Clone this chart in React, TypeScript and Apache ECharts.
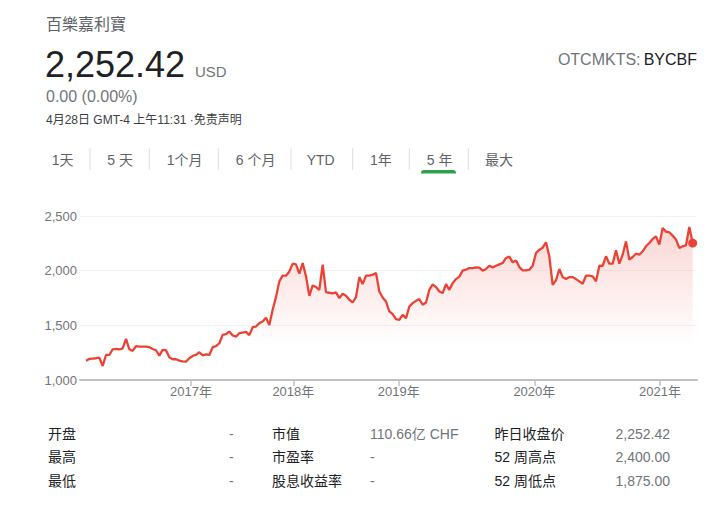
import React, { useEffect, useRef } from "react";
import * as echarts from "echarts";

// Weekly closing prices (USD), oldest first
const prices: number[] = [
  1177, 1193, 1196, 1199, 1205, 1128, 1229, 1229, 1281, 1284,
  1281, 1290, 1376, 1281, 1266, 1309, 1306, 1306, 1306, 1300,
  1284, 1272, 1223, 1275, 1272, 1208, 1190, 1190, 1177, 1171,
  1168, 1199, 1220, 1229, 1254, 1226, 1235, 1229, 1300, 1309,
  1336, 1413, 1419, 1443, 1407, 1397, 1428, 1434, 1440, 1410,
  1483, 1489, 1520, 1535, 1569, 1504, 1642, 1758, 1902, 1954,
  1954, 1993, 2064, 2058, 1972, 2070, 1948, 1770, 1865, 1850,
  1825, 2055, 1804, 1798, 1792, 1801, 1749, 1789, 1770, 1734,
  1709, 1758, 1941,
  1877, 1954, 1954, 1963, 1978, 1810, 1755, 1718, 1627, 1602,
  1556, 1550, 1596, 1566, 1672, 1703, 1724, 1740, 1688, 1709,
  1825, 1874, 1850, 1810, 1795, 1877, 1825, 1886, 1923, 1945,
  2000, 2009, 2024, 2024, 2030, 2027, 2000, 2015, 2045, 2030,
  2045, 2058, 2070, 2116, 2128, 2076, 2094, 2033, 2003, 2003,
  2009, 2045, 2162, 2192, 2210, 2259, 2131, 1871, 1911, 2015,
  1941, 1923, 1941, 1941, 1923, 1902, 1880, 1954, 1954, 1948,
  1902, 2045, 2045, 2131, 2064, 2064, 2186, 2064, 2146, 2268,
  2100, 2125, 2155, 2146, 2177, 2223, 2253, 2290, 2314, 2238,
  2391, 2357, 2351, 2320, 2284, 2207, 2223, 2232, 2400, 2252.42,
];

// Year boundaries, expressed as positions in the weekly series
const yearTickPos: number[] = [31.5, 62.2, 93.8, 134.5, 172.2];
const yearLabels: string[] = ["2017年", "2018年", "2019年", "2020年", "2021年"];

const yMin = 1000;
const yMax = 2500;
const yStep = 500;

const tabs: string[] = ["1天", "5 天", "1个月", "6 个月", "YTD", "1年", "5 年", "最大"];
const selectedTab = 6;

const statLabelsA: string[] = ["开盘", "最高", "最低"];
const statValuesA: string[] = ["-", "-", "-"];
const statLabelsB: string[] = ["市值", "市盈率", "股息收益率"];
const statValuesB: string[] = ["110.66亿 CHF", "-", "-"];
const statLabelsC: string[] = ["昨日收盘价", "52 周高点", "52 周低点"];
const statValuesC: string[] = ["2,252.42", "2,400.00", "1,875.00"];

const FONT = "'Liberation Sans', Arial, 'Noto Sans CJK SC', sans-serif";
const RED = "#ea4335";
const GREY = "#70757a";
const DARK = "#202124";

function txt(text: string, x: number, y: number, size: number, fill: string, align = "left") {
  return {
    type: "text",
    x,
    y,
    silent: true,
    style: {
      text,
      font: `${size}px ${FONT}`,
      fill,
      textAlign: align,
      textVerticalAlign: "middle",
    },
  };
}

export default function App() {
  const ref = useRef<HTMLDivElement>(null);

  useEffect(() => {
    if (!ref.current) return;
    const chart = echarts.init(ref.current, undefined, { renderer: "svg" });

    const tabX = [51.7, 107.3, 166.7, 235.7, 306.7, 370, 426.7, 485];
    const sepX = [90, 149.3, 218.3, 291, 352.7, 409.3, 468.3];
    const rowY = [433.6, 457.4, 480.9];

    const graphics: any[] = [
      txt("百樂嘉利寶", 46, 24.5, 16, "#5f6368"),
      txt("2,252.42", 45, 64.5, 36, DARK),
      txt("USD", 195, 71.8, 15, GREY),
      txt("0.00 (0.00%)", 46, 96.5, 16, GREY),
      txt("4月28日 GMT-4 上午11:31 ·免责声明", 46, 120.3, 12, "#3c4043"),
      txt("BYCBF", 697, 59.5, 16, DARK, "right"),
      txt("OTCMKTS: ", 645, 59.5, 16, GREY, "right"),
    ];
    tabs.forEach((t, i) => {
      graphics.push(txt(t, tabX[i], 159.5, 14, "#5f6368"));
    });
    sepX.forEach((x) => {
      graphics.push({
        type: "line",
        silent: true,
        shape: { x1: x, y1: 148.3, x2: x, y2: 170 },
        style: { stroke: "#dadce0", lineWidth: 1 },
      });
    });
    graphics.push({
      type: "rect",
      silent: true,
      shape: { x: tabX[selectedTab] - 5.7, y: 170, width: 35, height: 3.5, r: [3, 3, 0, 0] },
      style: { fill: "#2f9e4f" },
    });
    rowY.forEach((y, i) => {
      graphics.push(txt(statLabelsA[i], 48, y, 14, DARK));
      graphics.push(txt(statValuesA[i], 229, y, 14, GREY));
      graphics.push(txt(statLabelsB[i], 272, y, 14, DARK));
      graphics.push(txt(statValuesB[i], 370, y, 14, GREY));
      graphics.push(txt(statLabelsC[i], 494.5, y, 14, DARK));
      graphics.push(txt(statValuesC[i], 670, y, 14, GREY, "right"));
    });

    const lastIdx = prices.length - 1;

    chart.setOption({
      animation: false,
      grid: { left: 80, right: 25, top: 216, bottom: 131 },
      xAxis: {
        type: "value",
        min: -1.8,
        max: 183.3,
        axisLine: { show: true, lineStyle: { color: "#bdc1c6", width: 2 } },
        axisTick: {
          show: true,
          customValues: yearTickPos,
          length: 6,
          lineStyle: { color: "#bdc1c6", width: 1.5 },
        },
        axisLabel: {
          customValues: yearTickPos,
          color: GREY,
          fontSize: 13,
          fontFamily: FONT,
          margin: 5,
          formatter: (v: number) => {
            let best = 0;
            yearTickPos.forEach((p, i) => {
              if (Math.abs(p - v) < Math.abs(yearTickPos[best] - v)) best = i;
            });
            return yearLabels[best];
          },
        },
        splitLine: { show: false },
      },
      yAxis: {
        type: "value",
        min: yMin,
        max: yMax,
        interval: yStep,
        axisLine: { show: false },
        axisTick: { show: false },
        axisLabel: {
          color: GREY,
          fontSize: 13,
          fontFamily: FONT,
          margin: 3,
          formatter: (v: number) => v.toLocaleString("en-US"),
        },
        splitLine: { show: true, lineStyle: { color: "#f1f3f4", width: 1 } },
      },
      series: [
        {
          type: "line",
          data: prices.map((v, i) => [i, v]),
          showSymbol: false,
          symbol: "none",
          silent: true,
          lineStyle: { color: RED, width: 2.3 },
          areaStyle: {
            color: new echarts.graphic.LinearGradient(0, 0, 0, 1, [
              { offset: 0, color: "rgba(234,67,53,0.3)" },
              { offset: 0.78, color: "rgba(234,67,53,0)" },
              { offset: 1, color: "rgba(234,67,53,0)" },
            ]),
          },
        },
        {
          type: "scatter",
          data: [[lastIdx, prices[lastIdx]]],
          symbolSize: 9,
          silent: true,
          itemStyle: { color: RED, opacity: 1 },
        },
      ],
      graphic: graphics,
    });

    return () => chart.dispose();
  }, []);

  return (
    <div
      ref={ref}
      style={{ position: "absolute", left: 0, top: 0, width: 722, height: 511, background: "#fff" }}
    />
  );
}
